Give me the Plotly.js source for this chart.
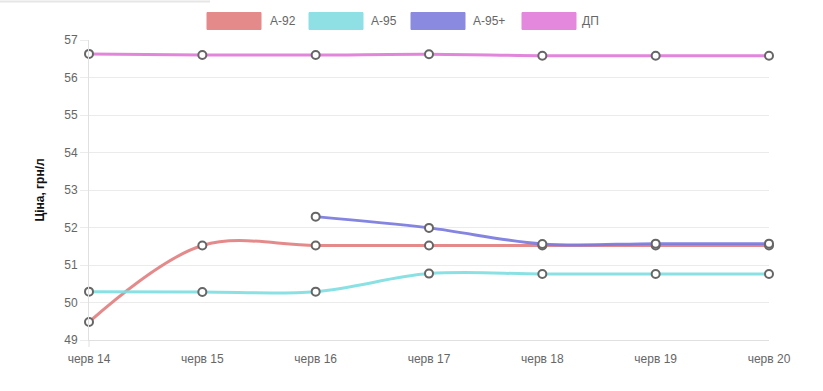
<!DOCTYPE html>
<html>
<head>
<meta charset="utf-8">
<script src="https://cdn.plot.ly/plotly-3.0.1.min.js"></script>
<style>html,body{margin:0;padding:0;background:#fff;}#chart{width:823px;height:391px;}</style>
</head>
<body>
<div id="chart"></div>
<script>
const categories = ["черв 14", "черв 15", "черв 16", "черв 17", "черв 18", "черв 19", "черв 20"];
const seriesNames = ["А-92", "А-95", "А-95+", "ДП"];
const a92 = [49.48, 51.52, 51.52, 51.52, 51.52, 51.52, 51.52];
const a95 = [50.29, 50.28, 50.29, 50.77, 50.76, 50.76, 50.76];
const a95plus = [null, null, 52.29, 51.99, 51.56, 51.57, 51.57];
const dp = [56.63, 56.6, 56.6, 56.62, 56.58, 56.58, 56.58];
const yTicks = [49, 50, 51, 52, 53, 54, 55, 56, 57];

const lineColors = ["rgba(226,128,128,0.92)", "rgba(128,222,226,0.92)", "rgba(122,122,222,0.92)", "rgba(224,124,216,0.92)"];
const boxColors = ["#e48a8a", "#8ee0e5", "#8a8ae0", "#e388dc"];
const seriesData = [a92, a95, a95plus, dp];

const traces = seriesData.map((vals, i) => ({
  x: categories,
  y: vals,
  name: seriesNames[i],
  type: "scatter",
  mode: "lines+markers",
  line: {color: lineColors[i], width: 3, shape: "spline", smoothing: 1},
  marker: {size: 8, color: "#fff", line: {color: "#666", width: 2}},
  connectgaps: false,
  cliponaxis: false,
  hoverinfo: "skip",
  showlegend: false
}));

// plot area in pixels: left 89, right 769, top 40, bottom 340
const L = 89, R = 769, T = 40, B = 340;
const px = x => (x - L) / (R - L);
const py = y => (B - y) / (B - T);

const legendBoxes = [[207, 261], [309, 363], [411, 465], [522, 576]];
const legendText = [268, 369, 471, 580];
const shapes = legendBoxes.map((b, i) => ({
  type: "rect", xref: "paper", yref: "paper",
  x0: px(b[0]), x1: px(b[1]), y0: py(29.5), y1: py(12.5),
  fillcolor: boxColors[i], line: {color: boxColors[i], width: 1}
}));
shapes.push({type: "line", xref: "paper", yref: "paper", x0: px(0), x1: px(210), y0: py(1.5), y1: py(1.5), line: {color: "#e6e6e6", width: 2}});
shapes.push({type: "line", xref: "paper", yref: "paper", x0: 0, x1: 0, y0: 0, y1: py(347), line: {color: "#e0e0e0", width: 1}});

const annotations = seriesNames.map((n, i) => ({
  xref: "paper", yref: "paper", x: px(legendText[i]), y: py(21), xanchor: "left", yanchor: "middle",
  text: n, showarrow: false, font: {family: "Liberation Sans, Arial, sans-serif", size: 12, color: "#666"}
}));

const layout = {
  width: 823, height: 391,
  margin: {l: L, r: 823 - R, t: T, b: 391 - B},
  paper_bgcolor: "#fff", plot_bgcolor: "#fff",
  font: {family: "Liberation Sans, Arial, sans-serif", size: 12, color: "#666"},
  showlegend: false,
  xaxis: {
    type: "category", range: [0, categories.length - 1],
    showgrid: false, zeroline: false,
    showline: true, linecolor: "#e0e0e0", linewidth: 1,
    ticks: "outside", ticklen: 8, tickcolor: "rgba(0,0,0,0)",
    tickfont: {size: 12, color: "#666"},
    fixedrange: true
  },
  yaxis: {
    range: [49, 57], tickvals: yTicks, ticktext: yTicks.map(String),
    showgrid: true, gridcolor: "#ebebeb", gridwidth: 1, zeroline: false,
    showline: true, linecolor: "#e0e0e0", linewidth: 1,
    ticks: "outside", ticklen: 8, tickcolor: "#ebebeb",
    tickfont: {size: 12, color: "#666"},
    title: {text: "Ціна, грн/л", font: {size: 12, color: "#111", family: "Liberation Sans, Arial, sans-serif", weight: "bold"}, standoff: 17},
    automargin: false, fixedrange: true
  },
  shapes: shapes,
  annotations: annotations
};

Plotly.newPlot("chart", traces, layout, {displayModeBar: false, staticPlot: true});
</script>
</body>
</html>
